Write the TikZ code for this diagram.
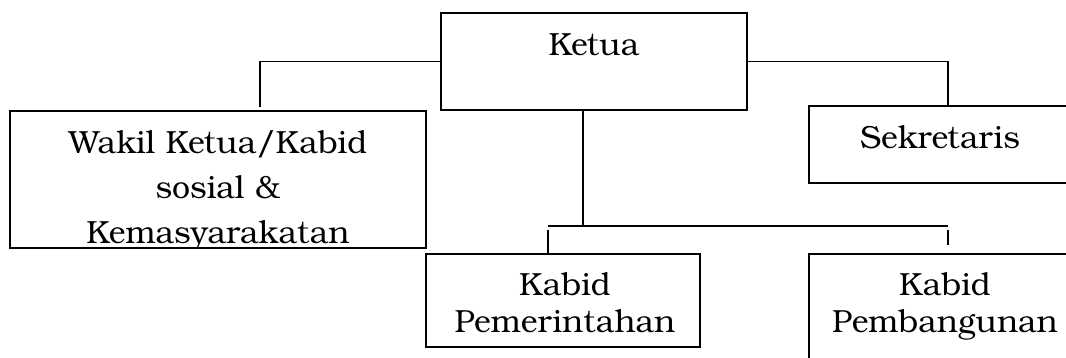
\documentclass[tikz,border=0pt]{standalone}
\usepackage{fontspec}
\setmainfont{TeX Gyre Bonum}
\begin{document}
\begin{tikzpicture}[x=1pt, y=-1pt,
  box/.style={draw, line width=1.8pt, rectangle, inner sep=0pt},
  lbl/.style={inner sep=0pt, anchor=base, align=center, font=\fontsize{32}{37}\selectfont},
  link/.style={line width=1.8pt}]
\useasboundingbox (0,0) rectangle (1066,357);
\clip (0,0) rectangle (1066,357);

% boxes
\node[box, minimum width=306pt, minimum height=97pt]  (ketua) at (594,61.5) {};
\node[box, minimum width=416pt, minimum height=137pt] (wakil) at (218,179.5) {};
\node[box, minimum width=262pt, minimum height=77pt]  (sekr)  at (940,144.5) {};
\node[box, minimum width=274pt, minimum height=93pt]  (pem)   at (563,300.5) {};
\node[box, minimum width=272pt, minimum height=121pt] (pbg)   at (945,314.5) {};

% labels (base anchor sits on the last line)
\node[lbl] (ketua-t) at (594,55) {Ketua};
\begin{scope}
  \clip (wakil.north west) rectangle (wakil.south east);
  \node[lbl, font=\fontsize{32}{45}\selectfont] (wakil-t) at (218,243)
    {Wakil Ketua/Kabid\\sosial \&\\Kemasyarakatan};
\end{scope}
\node[lbl] (sekr-t) at (940,148) {Sekretaris};
\node[lbl] (pem-t)  at (565,332) {Kabid\\Pemerintahan};
\node[lbl] (pbg-t)  at (945,332) {Kabid\\Pembangunan};

% connector points
\coordinate (wk)    at (260,107);
\coordinate (sk)    at (948,106);
\coordinate (trunk) at (583,226);
\coordinate (barL)  at (548,226);
\coordinate (barR)  at (948,226);
\coordinate (dropL) at (548,230);
\coordinate (dropR) at (948,230);
\coordinate (endR)  at (948,245);

% connectors
\draw[link] (ketua.west) -| (wk);
\draw[link] (ketua.east) -| (sk);
\draw[link] (ketua.south -| trunk) -- (trunk);
\draw[link] (barL) -- (barR);
\draw[link] (dropL) -- (dropL |- pem.north);
\draw[link] (dropR) -- (endR);
\end{tikzpicture}
\end{document}
